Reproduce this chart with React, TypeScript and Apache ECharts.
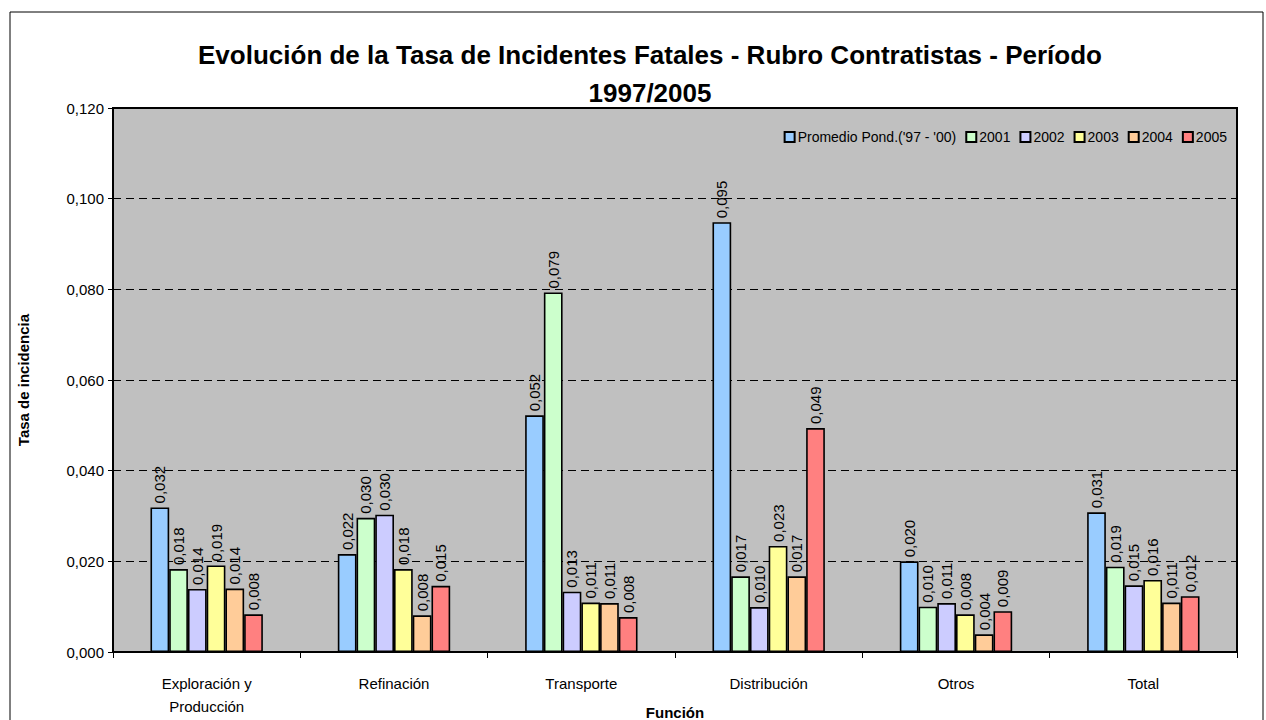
import React, { useEffect, useRef } from "react";
import * as echarts from "echarts";

const categories = ["Exploración y\nProducción", "Refinación", "Transporte", "Distribución", "Otros", "Total"];
const seriesNames = ["Promedio Pond.('97 - '00)", "2001", "2002", "2003", "2004", "2005"];
const promedio = [0.0319, 0.0216, 0.0522, 0.0948, 0.0200, 0.0308];
const y2001 = [0.0183, 0.0296, 0.0793, 0.0167, 0.0100, 0.0188];
const y2002 = [0.0139, 0.0303, 0.0133, 0.0099, 0.0108, 0.0147];
const y2003 = [0.0191, 0.0183, 0.0109, 0.0234, 0.0083, 0.0159];
const y2004 = [0.0140, 0.0081, 0.0108, 0.0167, 0.0039, 0.0109];
const y2005 = [0.0083, 0.0146, 0.0077, 0.0494, 0.0090, 0.0123];
const colors = ["#99CCFF", "#CCFFCC", "#CCCCFF", "#FFFF99", "#FFCC99", "#FF8080"];

const FONT = "'Liberation Sans Narrow', 'Arial Narrow', 'Liberation Sans', Arial, sans-serif";
const fmt = (v: number) => v.toFixed(3).replace(".", ",");

export default function App() {
  const ref = useRef<HTMLDivElement>(null);
  useEffect(() => {
    if (!ref.current) return;
    const chart = echarts.init(ref.current, null, { renderer: "svg" });
    const all = [promedio, y2001, y2002, y2003, y2004, y2005];
    chart.setOption({
      animation: false,
      backgroundColor: "#ffffff",
      textStyle: { fontFamily: FONT },
      title: {
        text: "Evolución de la Tasa de Incidentes Fatales - Rubro Contratistas - Período\n1997/2005",
        left: 645,
        textAlign: "center",
        top: 31,
        textStyle: { fontFamily: FONT, fontSize: 26, fontWeight: "bold", color: "#000", lineHeight: 38 },
      },
      legend: {
        data: seriesNames,
        right: 34,
        top: 125,
        itemWidth: 10,
        itemHeight: 10,
        itemGap: 9,
        icon: "rect",
        textStyle: { fontFamily: FONT, fontSize: 14, color: "#000", padding: [0, 0, 0, -2] },
      },
      grid: {
        left: 113,
        top: 108,
        right: 29,
        bottom: 68,
        outerBoundsMode: "none",
        containLabel: false,
        show: true,
        backgroundColor: "#C0C0C0",
        borderColor: "#000",
        borderWidth: 2,
      },
      xAxis: {
        type: "category",
        data: categories,
        name: "Función",
        nameLocation: "middle",
        nameGap: 53,
        nameMoveOverlap: false,
        nameTextStyle: { fontFamily: FONT, fontSize: 15, fontWeight: "bold", color: "#000" },
        axisLine: { lineStyle: { color: "#000", width: 2 } },
        axisTick: { show: true, length: 6, lineStyle: { color: "#000" } },
        axisLabel: { fontFamily: FONT, fontSize: 15, color: "#000", margin: 20, lineHeight: 23 },
      },
      yAxis: {
        type: "value",
        min: 0,
        max: 0.12,
        interval: 0.02,
        name: "Tasa de incidencia",
        nameLocation: "middle",
        nameGap: 82,
        nameMoveOverlap: false,
        nameTextStyle: { fontFamily: FONT, fontSize: 15, fontWeight: "bold", color: "#000" },
        axisLine: { show: true, lineStyle: { color: "#000", width: 2 } },
        axisTick: { show: true, length: 5, lineStyle: { color: "#000" } },
        axisLabel: { fontFamily: FONT, fontSize: 15, color: "#000", margin: 9, formatter: (v: number) => fmt(v) },
        splitLine: { show: true, lineStyle: { color: "#000", type: [8, 5], width: 1 } },
      },
      series: all.map((d, i) => ({
        name: seriesNames[i],
        type: "bar",
        data: d,
        barGap: "0%",
        barCategoryGap: "40%",
        itemStyle: { color: colors[i], borderColor: "#000", borderWidth: 1.6 },
        label: {
          show: true,
          position: "top",
          rotate: 90,
          align: "left",
          verticalAlign: "middle",
          distance: 4,
          fontFamily: FONT,
          fontSize: 15,
          color: "#000",
          formatter: (p: any) => fmt(p.value),
        },
      })),
      graphic: [
        {
          type: "rect",
          shape: { x: 10, y: 12, width: 1253, height: 720 },
          style: { fill: "none", stroke: "#000", lineWidth: 1 },
          silent: true,
          z: -1,
        },
      ],
    });
    return () => chart.dispose();
  }, []);
  return <div ref={ref} style={{ position: "fixed", left: 0, top: 0, width: 1266, height: 720 }} />;
}
